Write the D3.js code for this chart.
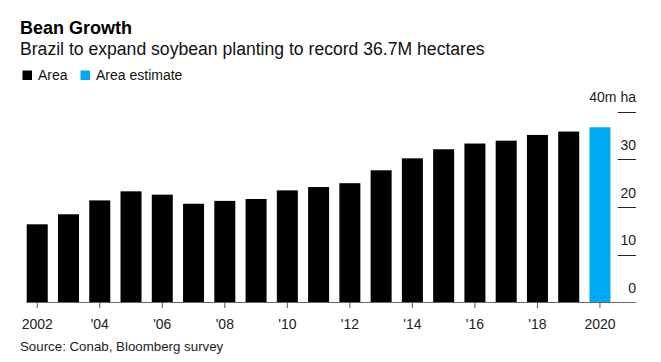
<!DOCTYPE html>
<html>
<head>
<meta charset="utf-8">
<script src="https://cdn.jsdelivr.net/npm/d3@7"></script>
<style>
	body { margin: 0; background: #fff; }
	text { font-family: "Liberation Sans", Arial, Helvetica, sans-serif; }
</style>
</head>
<body>
<div id="chart_container"></div>
<script>
// Data
const years = [2002, 2003, 2004, 2005, 2006, 2007, 2008, 2009, 2010, 2011,
	2012, 2013, 2014, 2015, 2016, 2017, 2018, 2019, 2020]
const areaValues = [16.4, 18.5, 21.4, 23.3, 22.6, 20.7, 21.3, 21.7, 23.5, 24.2,
	25.0, 27.7, 30.2, 32.1, 33.3, 33.9, 35.1, 35.8, 36.7]
const estimateYears = [2020]
const yTicks = [0, 10, 20, 30, 40]
const xTickYears = [2002, 2004, 2006, 2008, 2010, 2012, 2014, 2016, 2018, 2020]

// Chart dimensions
const chartWidth = 661
const chartHeight = 362
const axisRight = 636

// Colors
const areaColor = '#000000'
const estimateColor = '#00a9f4'

// Scales
let scaleX = d3.scaleBand()
	.domain(years)
	.range([21.6, 615.6])
	.paddingInner(0.328)
	.paddingOuter(0.164)
let scaleY = d3.scaleLinear()
	.domain([0, 40])
	.range([302.7, 111.5])

let svg = d3.select('#chart_container')
	.append('svg')
	.attr('width', chartWidth)
	.attr('height', chartHeight)

// Title and subtitle
svg.append('text')
	.attr('x', 20)
	.attr('y', 34)
	.style('font-size', '18px')
	.style('font-weight', 'bold')
	.text('Bean Growth')
svg.append('text')
	.attr('x', 20)
	.attr('y', 55)
	.style('font-size', '17.6px')
	.style('fill', '#111')
	.text('Brazil to expand soybean planting to record 36.7M hectares')

// Legend
let legendItems = [
	{ label: 'Area', color: areaColor, x: 22.5 },
	{ label: 'Area estimate', color: estimateColor, x: 80.5 }
]
let legend = svg.selectAll('.legend')
	.data(legendItems)
	.enter()
	.append('g')
	.attr('class', 'legend')
	.attr('transform', (d) => 'translate(' + d.x + ',70.5)')
legend.append('rect')
	.attr('width', 9.5)
	.attr('height', 9.5)
	.attr('fill', (d) => d.color)
legend.append('text')
	.attr('x', 15.5)
	.attr('y', 9.6)
	.style('font-size', '14px')
	.style('fill', '#111')
	.text((d) => d.label)

// Bars
svg.selectAll('.bar')
	.data(years)
	.enter()
	.append('rect')
	.attr('class', 'bar')
	.attr('x', (year) => scaleX(year))
	.attr('width', scaleX.bandwidth())
	.attr('y', (year, i) => scaleY(areaValues[i]))
	.attr('height', (year, i) => scaleY(0) - scaleY(areaValues[i]))
	.attr('fill', (year) => estimateYears.includes(year) ? estimateColor : areaColor)

// Y axis: short rules with labels above them
let yGroup = svg.append('g')
yGroup.selectAll('line')
	.data(yTicks.filter((t) => t > 0))
	.enter()
	.append('line')
	.attr('x1', 617.7)
	.attr('x2', axisRight)
	.attr('y1', (t) => Math.round(scaleY(t)) + 0.5)
	.attr('y2', (t) => Math.round(scaleY(t)) + 0.5)
	.style('stroke', '#222')
	.style('stroke-width', 1)
yGroup.selectAll('text')
	.data(yTicks)
	.enter()
	.append('text')
	.attr('x', axisRight)
	.attr('y', (t) => scaleY(t) - 9.5)
	.attr('text-anchor', 'end')
	.style('font-size', '14px')
	.style('fill', '#222')
	.text((t) => t === 40 ? '40m ha' : t)

// X axis
svg.append('line')
	.attr('x1', 26.5)
	.attr('x2', axisRight)
	.attr('y1', 302.5)
	.attr('y2', 302.5)
	.style('stroke', '#666')
	.style('stroke-width', 1)
let xAxis = d3.axisBottom(scaleX)
	.tickValues(xTickYears)
	.tickSize(6)
	.tickFormat((year) => year === 2002 || year === 2020 ? String(year) : "'" + String(year).slice(2))
let xGroup = svg.append('g')
	.attr('transform', 'translate(0,302)')
	.call(xAxis)
xGroup.select('.domain').remove()
xGroup.selectAll('.tick line')
	.style('stroke', '#555')
xGroup.selectAll('.tick text')
	.attr('y', 17)
	.style('font-family', '"Liberation Sans", Arial, Helvetica, sans-serif')
	.style('font-size', '14px')
	.style('fill', '#222')

// Source
svg.append('text')
	.attr('x', 20)
	.attr('y', 351)
	.style('font-size', '13.3px')
	.style('fill', '#222')
	.text('Source: Conab, Bloomberg survey')
</script>
</body>
</html>
